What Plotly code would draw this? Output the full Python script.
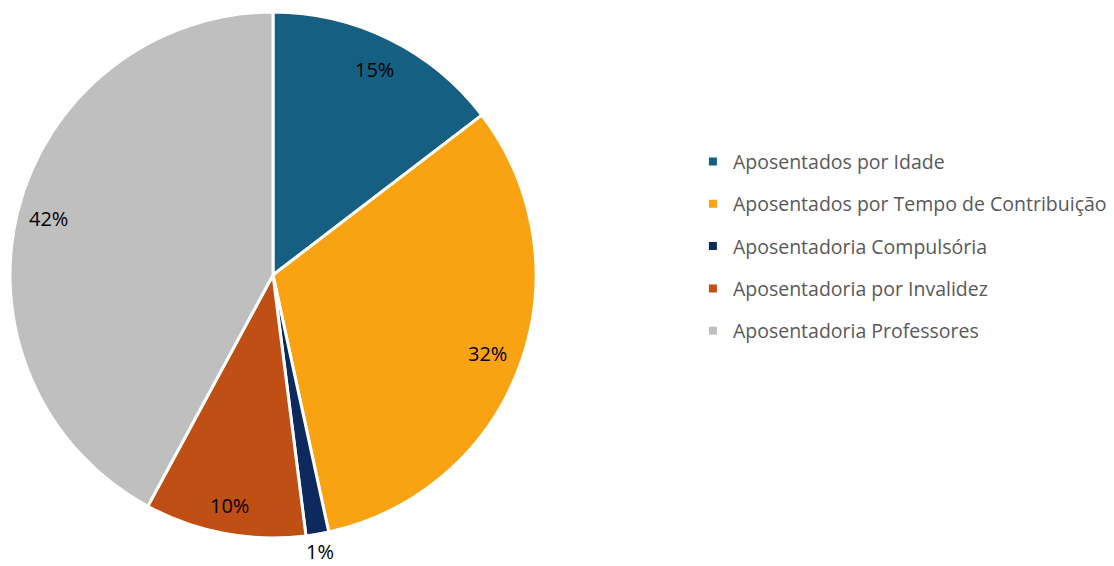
import math
import plotly.graph_objects as go

labels = ["Aposentados por Idade", "Aposentados por Tempo de Contribuição",
          "Aposentadoria Compulsória", "Aposentadoria por Invalidez",
          "Aposentadoria Professores"]
values = [14.6, 32.0, 1.4, 9.9, 42.1]
colors = ["#156082", "#F9A313", "#0C2A5E", "#C04F15", "#BFBFBF"]
label_radius = [0.87, 0.87, 1.065, 0.89, 0.88]  # fraction of pie radius

W, H = 1114, 566
cx, cy, R = 273, 275, 263

fig = go.Figure()
fig.add_trace(go.Pie(
    labels=labels, values=values, sort=False, direction="clockwise", rotation=0,
    marker=dict(colors=colors, line=dict(color="white", width=3)),
    textinfo="none",
    showlegend=False, hoverinfo="label+percent",
    domain=dict(x=[(cx - R) / W, (cx + R) / W], y=[(H - cy - R) / H, (H - cy + R) / H]),
))

# percentage labels placed near the outer edge of each slice (computed from data)
total = sum(values)
cum = 0.0
for v, rf in zip(values, label_radius):
    mid = (cum + v / 2) / total * 2 * math.pi
    cum += v
    px = cx + rf * R * math.sin(mid)
    py = cy - rf * R * math.cos(mid)
    fig.add_annotation(x=px / W, y=1 - py / H, xref="paper", yref="paper",
                       text=f"{round(v / total * 100)}%", showarrow=False,
                       font=dict(family="Open Sans", size=20, color="black"),
                       xanchor="center", yanchor="middle")

for lab, col in zip(labels, colors):
    fig.add_trace(go.Scatter(x=[None], y=[None], mode="markers", name=lab,
                             marker=dict(symbol="square", size=8, color=col),
                             legendgroup=lab))

fig.update_layout(
    width=W, height=H, margin=dict(l=0, r=0, t=0, b=0),
    paper_bgcolor="white", plot_bgcolor="white",
    xaxis=dict(visible=False), yaxis=dict(visible=False),
    legend=dict(x=0.622, y=0.565, xanchor="left", yanchor="middle",
                font=dict(family="Open Sans", size=19.5, color="#595959"),
                tracegroupgap=14, itemwidth=30),
)
fig.write_html("out.html")
